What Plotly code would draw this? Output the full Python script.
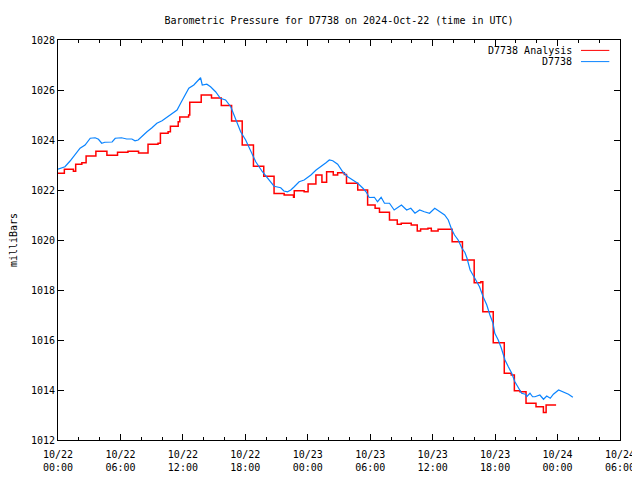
import pandas as pd
import plotly.graph_objects as go

BASE = pd.Timestamp("2024-10-22 00:00")

# D7738 Analysis (step series): hours since 10/22 00:00 UTC, pressure in mb
analysis_hours = [0, 0.61, 1.48, 1.7, 2.29, 2.7, 3.64, 4.7, 5.72, 6.72, 7.74, 8.65, 9.61, 9.84,
                  10.58, 10.8, 11.55, 11.7, 12.55, 12.66, 13.76, 14.75, 15.69, 16.68, 17.7, 18.78,
                  19.77, 20.76, 21.73, 22.63, 22.7, 23.65, 24.03, 24.78, 25.36, 25.81, 26.45,
                  26.87, 27.51, 27.72, 28.8, 29.75, 30.47, 30.89, 31.85, 32.6, 32.98, 33.94,
                  34.52, 34.84, 35.55, 35.87, 36.52, 37.87, 38.86, 39.99, 40.63, 40.82, 41.82,
                  42.88, 43.55, 43.85, 44.39, 44.97, 45.93, 46.64, 46.9, 47.86]
analysis_mb = [1022.67, 1022.83, 1022.75, 1023.03, 1023.09, 1023.36, 1023.55, 1023.39, 1023.51,
               1023.55, 1023.48, 1023.83, 1023.87, 1024.27, 1024.33, 1024.55, 1024.73, 1024.92,
               1025.0, 1025.51, 1025.8, 1025.68, 1025.38, 1024.76, 1023.8, 1022.95, 1022.55,
               1021.86, 1021.8, 1021.71, 1021.97, 1021.93, 1022.24, 1022.6, 1022.31, 1022.73,
               1022.6, 1022.69, 1022.62, 1022.27, 1022.0, 1021.4, 1021.27, 1021.11, 1020.8,
               1020.63, 1020.67, 1020.6, 1020.36, 1020.44, 1020.47, 1020.36, 1020.43, 1019.93,
               1019.2, 1018.29, 1018.33, 1017.13, 1015.89, 1014.67, 1014.6, 1013.97, 1013.93,
               1013.47, 1013.33, 1013.1, 1013.4, 1013.4]

# D7738 observed pressure
obs_hours = [0, 0.67, 1.16, 1.64, 2.12, 2.6, 3.1, 3.57, 3.89, 4.2, 4.5, 5.2, 5.5, 6.1, 6.6, 7.1,
             7.4, 7.7, 8.07, 8.55, 9.03, 9.5, 10.0, 10.5, 11.0, 11.44, 11.86, 12.1, 12.57, 13.05,
             13.37, 13.7, 13.86, 14.3, 14.66, 15.14, 15.6, 16.1, 16.6, 17.07, 17.55, 18.03, 18.5,
             19.0, 19.64, 20.3, 20.76, 21.4, 21.7, 22.05, 22.37, 22.7, 23.17, 23.65, 24.3, 24.8,
             25.26, 25.75, 26.07, 26.4, 26.87, 27.36, 27.84, 28.3, 28.8, 29.3, 29.6, 29.9, 30.4,
             30.7, 31.05, 31.37, 31.85, 32.3, 33.0, 33.5, 33.9, 34.3, 34.75, 35.2, 35.7, 36.2,
             36.7, 37.15, 37.5, 37.8, 38.1, 38.45, 38.8, 39.1, 39.3, 39.6, 40.05, 40.5, 40.85,
             41.2, 41.5, 41.8, 41.97, 42.3, 42.6, 42.95, 43.27, 43.6, 43.9, 44.25, 44.55, 44.9,
             45.03, 45.35, 45.6, 45.83, 46.15, 46.3, 46.65, 46.96, 47.3, 47.6, 48.1, 48.57,
             49.05, 49.47]
obs_mb = [1022.83, 1022.93, 1023.16, 1023.44, 1023.67, 1023.8, 1024.07, 1024.09, 1024.03,
          1023.87, 1023.91, 1023.92, 1024.07, 1024.09, 1024.04, 1024.04, 1023.97, 1024.0,
          1024.16, 1024.33, 1024.49, 1024.67, 1024.77, 1024.91, 1025.07, 1025.2, 1025.53,
          1025.73, 1026.07, 1026.2, 1026.33, 1026.49, 1026.2, 1026.23, 1026.13, 1025.93,
          1025.67, 1025.6, 1025.33, 1024.8, 1024.33, 1024.0, 1023.6, 1023.13, 1022.73, 1022.4,
          1022.15, 1022.09, 1021.96, 1021.93, 1022.0, 1022.13, 1022.33, 1022.4, 1022.6, 1022.8,
          1022.93, 1023.09, 1023.2, 1023.17, 1023.03, 1022.73, 1022.53, 1022.4, 1022.27,
          1022.07, 1021.93, 1021.7, 1021.71, 1021.53, 1021.71, 1021.47, 1021.47, 1021.2,
          1021.4, 1021.2, 1021.27, 1021.07, 1021.2, 1021.13, 1021.07, 1021.27, 1021.13, 1021.0,
          1020.8, 1020.45, 1020.2, 1020.0, 1019.68, 1019.5, 1019.27, 1018.8, 1018.47, 1018.13,
          1017.73, 1017.4, 1017.0, 1016.67, 1016.27, 1016.0, 1015.67, 1015.2, 1014.93, 1014.67,
          1014.33, 1014.07, 1013.87, 1013.83, 1013.73, 1013.87, 1013.73, 1013.73, 1013.77,
          1013.8, 1013.63, 1013.76, 1013.67, 1013.83, 1014.0, 1013.93, 1013.83, 1013.71]

y_ticks = [1012, 1014, 1016, 1018, 1020, 1022, 1024, 1026, 1028]

to_time = lambda hrs: BASE + pd.to_timedelta(hrs, unit="h")

FONT = "DejaVu Sans Mono"
RED = "#ff0000"
BLUE = "#0a84ff"

fig = go.Figure()
fig.add_trace(go.Scatter(x=to_time(analysis_hours), y=analysis_mb, mode="lines",
                         line=dict(color=RED, width=1.5, shape="hv"),
                         name="D7738 Analysis", showlegend=False))
fig.add_trace(go.Scatter(x=to_time(obs_hours), y=obs_mb, mode="lines",
                         line=dict(color=BLUE, width=1.2),
                         name="D7738", showlegend=False))

# gnuplot-style legend: right-aligned text followed by a line sample
legend_items = [("D7738 Analysis", RED, 0.974), ("D7738", BLUE, 0.946)]
for text, color, yy in legend_items:
    fig.add_annotation(text=text, xref="paper", yref="paper", x=0.919, y=yy,
                       xanchor="right", yanchor="middle", showarrow=False,
                       font=dict(family=FONT, size=10, color="black"))
    fig.add_shape(type="line", xref="paper", yref="paper", x0=0.9306, x1=0.981,
                  y0=yy, y1=yy, line=dict(color=color, width=1))

# the page body has an 8px margin; margins are offset so the plot lands where the reference has it
fig.update_layout(
    width=640, height=480,
    margin=dict(l=50, r=28, t=32, b=48, autoexpand=False),
    paper_bgcolor="white", plot_bgcolor="white",
    font=dict(family=FONT, size=10, color="black"),
    title=dict(text="Barometric Pressure for D7738 on 2024-Oct-22 (time in UTC)",
               xref="paper", x=0.5, xanchor="center", y=1 - 12 / 480, yanchor="middle",
               font=dict(family=FONT, size=10, color="black")),
    showlegend=False,
)
fig.update_xaxes(
    type="date",
    range=[BASE, BASE + pd.Timedelta(hours=54)],
    tick0=BASE, dtick=6 * 3600 * 1000, tickformat="%m/%d<br>%H:%M",
    ticks="inside", ticklen=6, tickcolor="black", tickwidth=1,
    minor=dict(dtick=2 * 3600 * 1000, ticks="inside", ticklen=3, tickcolor="black"),
    showline=True, linecolor="black", linewidth=1, mirror="allticks",
    showgrid=False, zeroline=False, ticklabelstandoff=5,
    tickfont=dict(family=FONT, size=10),
)
fig.update_yaxes(
    range=[1012, 1028], tickvals=y_ticks, ticktext=[str(v) for v in y_ticks],
    ticks="inside", ticklen=6, tickcolor="black", tickwidth=1,
    showline=True, linecolor="black", linewidth=1, mirror="allticks",
    showgrid=False, zeroline=False,
    title=dict(text="milliBars", standoff=15, font=dict(family=FONT, size=10)),
    tickfont=dict(family=FONT, size=10),
)

fig.write_html("out.html")
